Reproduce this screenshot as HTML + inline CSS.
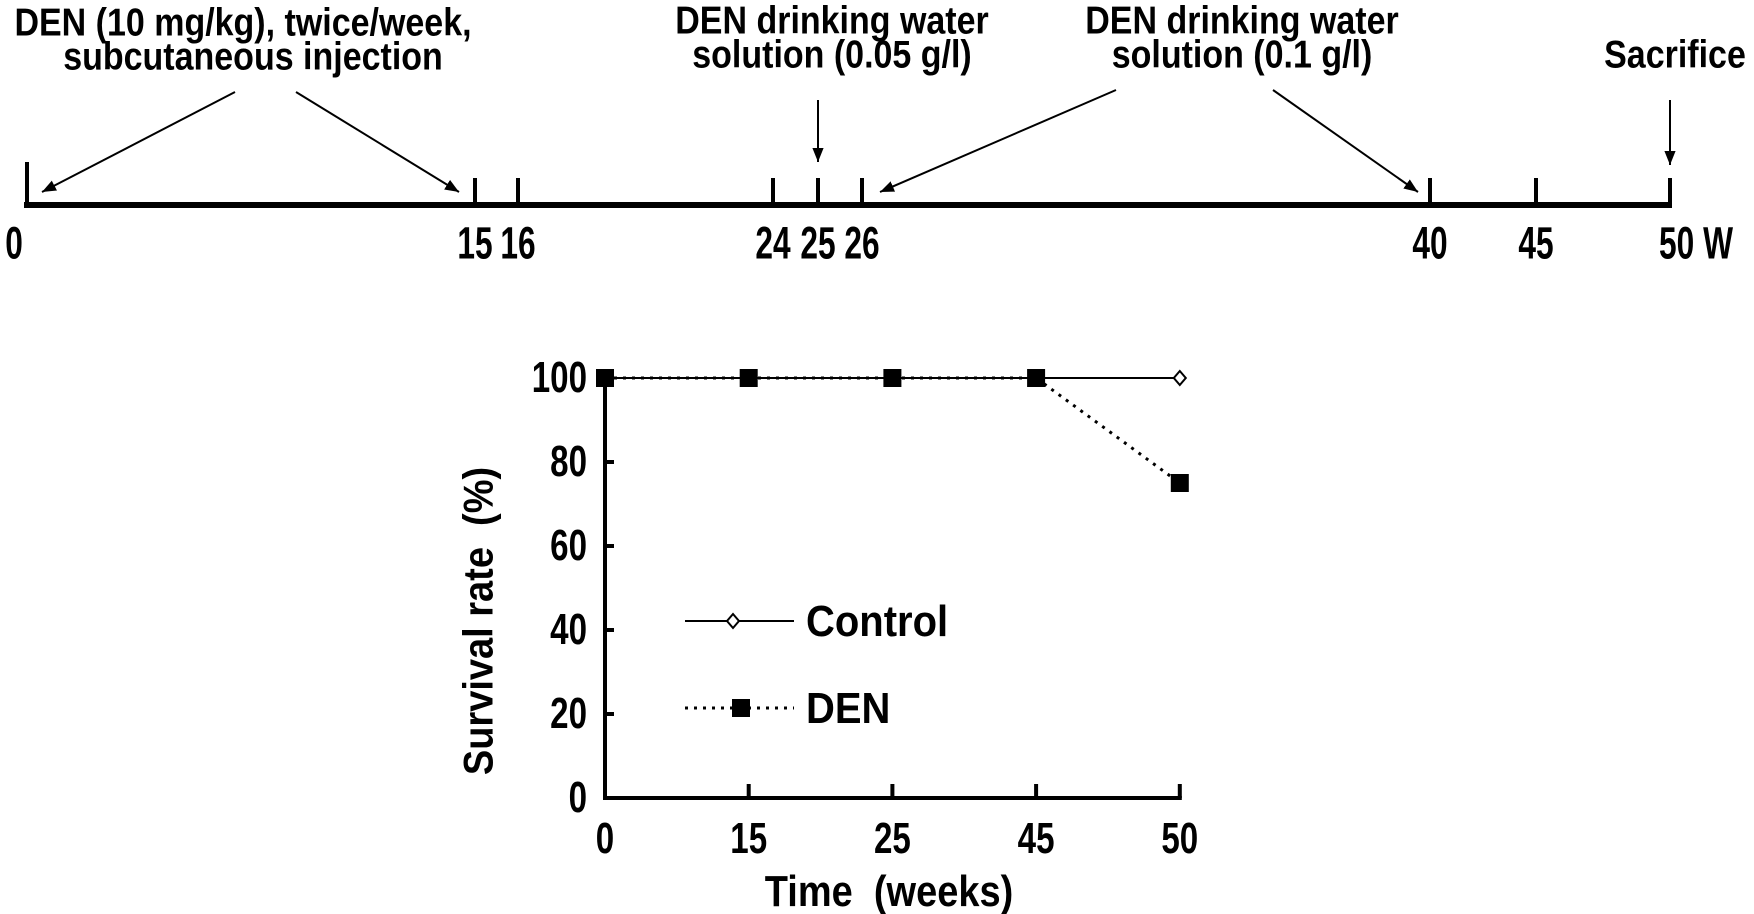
<!DOCTYPE html>
<html><head><meta charset="utf-8"><style>
html,body{margin:0;padding:0;background:#fff;}
svg{display:block;font-family:"Liberation Sans",Arial,sans-serif;font-weight:bold;}
</style></head><body>
<svg id="fig" width="1754" height="914" viewBox="0 0 1754 914" xmlns="http://www.w3.org/2000/svg">
<defs><marker id="ah" viewBox="0 0 10 10" refX="10" refY="5" markerWidth="7" markerHeight="7" orient="auto-start-reverse"><path d="M0,1 L10,5 L0,9 z" fill="#000"/></marker></defs>
<g id="timeline"></g>
<g id="chart"></g>
</svg>
<script>
const NS="http://www.w3.org/2000/svg";
// timeline data
const tlWeeks=[0,15,16,24,25,26,40,45,50];
const tlLabels=["0","15","16","24","25","26","40","45","50 W"];
const tlPos=[27,475,518,773,818,862,1430,1536,1670];
// chart data
const categories=["0","15","25","45","50"];
const controlValues=[100,100,100,100,100];
const denValues=[100,100,100,100,75];
const yTicks=[0,20,40,60,80,100];

function mk(parent,tag,attrs){const e=document.createElementNS(NS,tag);for(const k in attrs)e.setAttribute(k,attrs[k]);parent.appendChild(e);return e;}
function txt(parent,x,y,s,size,anchor,sy,sx){const t=mk(parent,'text',{'font-size':size,'text-anchor':anchor||'middle','transform':`translate(${x},${y}) scale(${sx||1},${sy||1.1})`,'dominant-baseline':'central'});t.textContent=s;return t;}

const tl=document.getElementById('timeline');
let e=mk(tl,'line',{x1:24,y1:205,x2:1672,y2:205,stroke:'#000','stroke-width':6});


tlPos.forEach((x,i)=>{
  const l=mk(tl,'line',{x1:x,y1:i===0?162:178,x2:x,y2:205,stroke:'#000','stroke-width':4});
  
  
  const t=txt(tl,i===0?14:x+(i===8?26:0),244,tlLabels[i],36,'middle',1.25,0.88);
  
  
});
const notes=[[243,22,"DEN (10 mg/kg), twice/week,"],[253,56,"subcutaneous injection"],[832,20,"DEN drinking water"],[832,54,"solution (0.05 g/l)"],[1242,20,"DEN drinking water"],[1242,54,"solution (0.1 g/l)"],[1675,54,"Sacrifice"]];
notes.forEach(n=>{const t=txt(tl,n[0],n[1],n[2],34,'middle',1.15);
  
  });
const arrows=[[235,92,42,192],[296,92,459,192],[818,100,818,162],[1116,90,880,192],[1273,90,1418,192],[1670,100,1670,165]];
arrows.forEach(a=>{const l=mk(tl,'line',{x1:a[0],y1:a[1],x2:a[2],y2:a[3],stroke:'#000','stroke-width':2,'marker-end':'url(#ah)'});
  
  });

// chart
const ch=document.getElementById('chart');
const X0=605,DX=143.7,Y0=798,Y100=378;
const xs=i=>X0+i*DX;
const ys=v=>Y0-(v/100)*(Y0-Y100);
e=mk(ch,'path',{d:`M${X0},${Y100-5} L${X0},${Y0} L${xs(4)+2},${Y0}`,fill:'none',stroke:'#000','stroke-width':4});


yTicks.forEach(v=>{
  if(v>0&&v<100){const l=mk(ch,'line',{x1:X0,y1:ys(v),x2:X0+9,y2:ys(v),stroke:'#000','stroke-width':4});
  
  }
  const t=txt(ch,587,ys(v),String(v),36,'end',1.2,0.92);
  
  
});
categories.forEach((c,i)=>{
  if(i>0){const l=mk(ch,'line',{x1:xs(i),y1:Y0-14,x2:xs(i),y2:Y0,stroke:'#000','stroke-width':4});
  
  }
  const t=txt(ch,xs(i),839,c,36,'middle',1.2,0.92);
  
  
});
e=txt(ch,889,891,"Time\u00a0\u00a0(weeks)",38,'middle',1.15);


e=mk(ch,'text',{'font-size':38,'text-anchor':'middle','dominant-baseline':'central',transform:'translate(479,621) rotate(-90) scale(1,1.1)'});
e.textContent="Survival rate\u00a0\u00a0(%)";



e=mk(ch,'polyline',{points:controlValues.map((v,i)=>xs(i)+','+ys(v)).join(' '),fill:'none',stroke:'#000','stroke-width':2});


e=mk(ch,'polyline',{points:denValues.map((v,i)=>xs(i)+','+ys(v)).join(' '),fill:'none',stroke:'#000','stroke-width':3,'stroke-dasharray':'3,6'});


function diamond(x,y){return mk(ch,'path',{d:`M${x},${y-7} L${x+6},${y} L${x},${y+7} L${x-6},${y} Z`,fill:'#fff',stroke:'#000','stroke-width':2});}
function square(x,y){return mk(ch,'rect',{x:x-9,y:y-9,width:18,height:18,fill:'#000'});}
controlValues.forEach((v,i)=>{const m=diamond(xs(i),ys(v));
  
  });
denValues.forEach((v,i)=>{const m=square(xs(i),ys(v));
  
  });

// legend
e=mk(ch,'line',{x1:685,y1:621,x2:794,y2:621,stroke:'#000','stroke-width':2});


e=diamond(733,621);


e=txt(ch,806,621,"Control",40,'start',1.1);


e=mk(ch,'line',{x1:685,y1:708,x2:794,y2:708,stroke:'#000','stroke-width':3,'stroke-dasharray':'3,6'});


e=square(741,708);


e=txt(ch,806,708,"DEN",40,'start',1.1);


</script>
</body></html>
